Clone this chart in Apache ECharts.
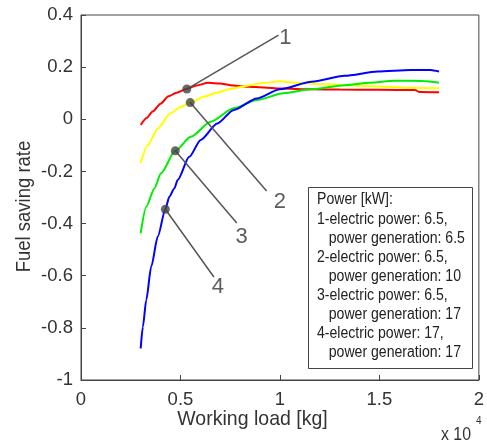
<!DOCTYPE html>
<html>
<head>
<meta charset="utf-8">
<script src="https://cdn.jsdelivr.net/npm/echarts@6/dist/echarts.min.js"></script>
<style>
html,body{margin:0;padding:0;background:#fff;}
#c{width:487px;height:443px;}
</style>
</head>
<body>
<div id="c"></div>
<script>
// Working load in kg, fuel saving rate (fraction)
const redX = [3000,3300,3600,4000,4400,4800,5300,5800,6400,7000,7500,8400,9200,10000,11600,13000,15000,16800,17000,18000];
const redY = [-0.022,0.005,0.030,0.060,0.088,0.102,0.116,0.130,0.140,0.137,0.131,0.125,0.122,0.118,0.115,0.114,0.113,0.112,0.105,0.104];

const yellowX = [3000,3360,3860,4500,5000,5500,6200,6850,7600,8500,9200,10000,10800,12000,13300,15400,16500,18000];
const yellowY = [-0.168,-0.099,-0.035,0.023,0.047,0.064,0.087,0.103,0.118,0.131,0.139,0.146,0.140,0.135,0.131,0.125,0.121,0.119];

const greenX = [3000,3280,3690,4020,4740,5520,6520,7680,8840,10170,11570,13250,14500,15750,17200,18000];
const greenY = [-0.437,-0.335,-0.265,-0.207,-0.121,-0.067,-0.009,0.042,0.074,0.100,0.115,0.131,0.140,0.148,0.147,0.140];

const blueX = [3000,3110,3280,3530,3860,4240,4440,4690,4860,5440,6020,6850,7680,8840,10000,11590,13250,14910,16570,17570,18000];
const blueY = [-0.879,-0.796,-0.693,-0.565,-0.450,-0.345,-0.297,-0.265,-0.233,-0.144,-0.079,-0.016,0.036,0.080,0.115,0.144,0.167,0.183,0.189,0.189,0.183];

// Annotation markers (on curves), leader line ends and label positions
const markerNames = ['1','2','3','4'];
const markerPts = [[5320,0.116],[5490,0.064],[4740,-0.121],[4240,-0.345]];
const leaderEnds = [[9930,0.323],[9330,-0.275],[7830,-0.398],[6680,-0.605]];
const labelPts = [[10270,0.312],[10000,-0.317],[8080,-0.452],[6880,-0.643]];

const xTicks = [0,0.5,1,1.5,2];
const yTicks = [-1,-0.8,-0.6,-0.4,-0.2,0,0.2,0.4];

const boxLines = [
  'Power [kW]:',
  '1-electric power: 6.5,',
  '   power generation: 6.5',
  '2-electric power: 6.5,',
  '   power generation: 10',
  '3-electric power: 6.5,',
  '   power generation: 17',
  '4-electric power: 17,',
  '   power generation: 17'
];

const FONT = '"Liberation Sans", Arial, sans-serif';
const zip = (xs, ys) => xs.map((x, i) => [x, ys[i]]);

const curve = (name, xs, ys, color) => ({
  name, type: 'line', data: zip(xs, ys), showSymbol: false, smooth: 0.25, smoothMonotone: 'x',
  lineStyle: { color, width: 2 }, z: 3, animation: false
});

const series = [
  curve('1', redX, redY, '#ff0000'),
  curve('2', yellowX, yellowY, '#ffff00'),
  curve('3', greenX, greenY, '#00ee00'),
  curve('4', blueX, blueY, '#0000ff')
];

markerPts.forEach((p, i) => {
  series.push({
    type: 'line', data: [p, leaderEnds[i]], showSymbol: false,
    lineStyle: { color: '#555', width: 1.5 }, z: 4, animation: false, silent: true
  });
});
series.push({
  type: 'scatter', data: markerPts, symbolSize: 9,
  itemStyle: { color: '#444' }, z: 5, animation: false, silent: true
});
series.push({
  type: 'scatter', data: labelPts.map((p, i) => ({ value: p, name: markerNames[i] })),
  symbolSize: 0, z: 5, animation: false, silent: true,
  label: { show: true, position: 'inside', formatter: (d) => d.name,
           fontFamily: FONT, fontSize: 22, color: '#333' }
});

const chart = echarts.init(document.getElementById('c'), null, { renderer: 'canvas' });
chart.setOption({
  backgroundColor: '#fff',
  animation: false,
  grid: { left: 81, right: 4, top: 15, bottom: 63, show: true, borderColor: '#444', borderWidth: 1 },
  xAxis: {
    type: 'value', min: 0, max: 20000, interval: 5000,
    axisLine: { show: true, onZero: false, lineStyle: { color: '#444', width: 1 } },
    axisTick: { show: true, inside: true, length: 5, lineStyle: { color: '#444' } },
    splitLine: { show: false },
    axisLabel: { margin: 10, fontFamily: FONT, fontSize: 18.5, color: '#333',
      formatter: (v) => { const t = v / 10000; return xTicks.includes(t) ? String(t) : ''; } }
  },
  yAxis: {
    type: 'value', min: -1, max: 0.4, interval: 0.2,
    axisLine: { show: true, onZero: false, lineStyle: { color: '#444', width: 1 } },
    axisTick: { show: true, inside: true, length: 5, lineStyle: { color: '#444' } },
    splitLine: { show: false },
    axisLabel: { margin: 8, fontFamily: FONT, fontSize: 18.5, color: '#333',
      formatter: (v) => { const r = Math.round(v * 10) / 10; return yTicks.includes(r) ? String(r) : ''; } }
  },
  graphic: [
    { type: 'text', x: 252.5, y: 419, scaleX: 0.93, z: 10,
      style: { text: 'Working load [kg]', font: '21px ' + FONT, fill: '#333',
               align: 'center', verticalAlign: 'middle' } },
    { type: 'text', x: 24, y: 206.5, rotation: Math.PI / 2, scaleX: 0.88, z: 10,
      style: { text: 'Fuel saving rate', font: '21px ' + FONT, fill: '#333',
               align: 'center', verticalAlign: 'middle' } },
    { type: 'text', x: 441, y: 435, scaleX: 0.88, z: 10,
      style: { text: 'x 10', font: '18px ' + FONT, fill: '#333', align: 'left', verticalAlign: 'middle' } },
    { type: 'text', x: 476, y: 421, z: 10,
      style: { text: '4', font: '10px ' + FONT, fill: '#333', align: 'left', verticalAlign: 'middle' } },
    { type: 'rect', shape: { x: 308.5, y: 187.5, width: 164, height: 181 }, z: 10,
      style: { fill: '#fff', stroke: '#444', lineWidth: 1 } },
    { type: 'text', x: 317, y: 190.5, scaleX: 0.88, z: 11,
      style: { text: boxLines.join('\n'), font: '16px ' + FONT, fill: '#222',
               lineHeight: 19.1, align: 'left', verticalAlign: 'top' } }
  ],
  series
});
</script>
</body>
</html>
